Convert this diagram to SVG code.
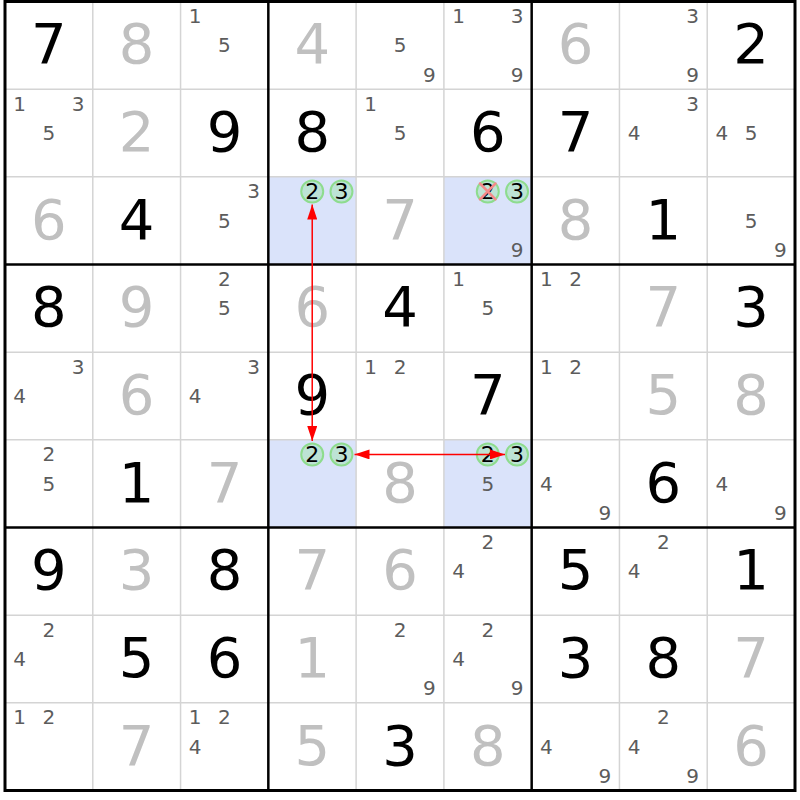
<svg xmlns="http://www.w3.org/2000/svg" width="800" height="800" viewBox="0 0 800 800">
<style>
.s{font-family:"DejaVu Sans",Verdana,sans-serif;font-size:56px;fill:#000;text-anchor:middle}
.g{font-family:"DejaVu Sans",Verdana,sans-serif;font-size:56px;fill:#c0c0c0;text-anchor:middle}
.c{font-family:"DejaVu Sans",Verdana,sans-serif;font-size:20px;fill:#5c5c5c;text-anchor:middle}
.k{font-family:"DejaVu Sans",Verdana,sans-serif;font-size:22px;fill:#000;text-anchor:middle}
.hl{fill:#dae3fa}
.ring{fill:#bde3d5;stroke:#8edc8e;stroke-width:2}
.thin{stroke:#d4d4d4;stroke-width:1.5}
.thick{stroke:#000;stroke-width:2.5}
.cross{stroke:#f58a8a;stroke-width:2.5;stroke-linecap:round}
.link{stroke:#ff0000;stroke-width:1.5;fill:none;marker-start:url(#ah);marker-end:url(#ah)}
</style>
<defs>
<marker id="ah" viewBox="0 0 15 10" refX="15" refY="5" markerWidth="15" markerHeight="10" markerUnits="userSpaceOnUse" orient="auto-start-reverse">
<path d="M0,0 L15,5 L0,10 z" fill="#ff0000"/>
</marker>
</defs>
<rect x="0" y="0" width="800" height="800" fill="#fff"/>
<g id="highlights">
<rect class="hl" x="268.33" y="176.83" width="87.78" height="87.67"/>
<rect class="hl" x="443.89" y="176.83" width="87.78" height="87.67"/>
<rect class="hl" x="268.33" y="439.83" width="87.78" height="87.67"/>
<rect class="hl" x="443.89" y="439.83" width="87.78" height="87.67"/>
</g>
<g id="grid">
<line class="thin" x1="92.78" y1="1.5" x2="92.78" y2="790.5"/>
<line class="thin" x1="180.56" y1="1.5" x2="180.56" y2="790.5"/>
<line class="thin" x1="356.11" y1="1.5" x2="356.11" y2="790.5"/>
<line class="thin" x1="443.89" y1="1.5" x2="443.89" y2="790.5"/>
<line class="thin" x1="619.44" y1="1.5" x2="619.44" y2="790.5"/>
<line class="thin" x1="707.22" y1="1.5" x2="707.22" y2="790.5"/>
<line class="thin" x1="5" y1="89.17" x2="795" y2="89.17"/>
<line class="thin" x1="5" y1="176.83" x2="795" y2="176.83"/>
<line class="thin" x1="5" y1="352.17" x2="795" y2="352.17"/>
<line class="thin" x1="5" y1="439.83" x2="795" y2="439.83"/>
<line class="thin" x1="5" y1="615.17" x2="795" y2="615.17"/>
<line class="thin" x1="5" y1="702.83" x2="795" y2="702.83"/>
<line class="thick" x1="268.33" y1="1.5" x2="268.33" y2="790.5"/>
<line class="thick" x1="531.67" y1="1.5" x2="531.67" y2="790.5"/>
<line class="thick" x1="5" y1="264.5" x2="795" y2="264.5"/>
<line class="thick" x1="5" y1="527.5" x2="795" y2="527.5"/>
<rect x="5" y="1.5" width="790" height="789" fill="none" stroke="#000" stroke-width="3"/>
</g>
<g id="r0">
<g id="r0c0"><text class="s" x="48.89" y="63.3">7</text></g>
<g id="r0c1"><text class="g" x="136.67" y="63.3">8</text></g>
<g id="r0c2"><text class="c" x="195.19" y="23.1">1</text><text class="c" x="224.45" y="52.3">5</text></g>
<g id="r0c3"><text class="g" x="312.22" y="63.3">4</text></g>
<g id="r0c4"><text class="c" x="400" y="52.3">5</text><text class="c" x="429.26" y="81.5">9</text></g>
<g id="r0c5"><text class="c" x="458.52" y="23.1">1</text><text class="c" x="517.04" y="23.1">3</text><text class="c" x="517.04" y="81.5">9</text></g>
<g id="r0c6"><text class="g" x="575.56" y="63.3">6</text></g>
<g id="r0c7"><text class="c" x="692.59" y="23.1">3</text><text class="c" x="692.59" y="81.5">9</text></g>
<g id="r0c8"><text class="s" x="751.11" y="63.3">2</text></g>
</g>
<g id="r1">
<g id="r1c0"><text class="c" x="19.63" y="110.8">1</text><text class="c" x="78.15" y="110.8">3</text><text class="c" x="48.89" y="140">5</text></g>
<g id="r1c1"><text class="g" x="136.67" y="151">2</text></g>
<g id="r1c2"><text class="s" x="224.45" y="151">9</text></g>
<g id="r1c3"><text class="s" x="312.22" y="151">8</text></g>
<g id="r1c4"><text class="c" x="370.74" y="110.8">1</text><text class="c" x="400" y="140">5</text></g>
<g id="r1c5"><text class="s" x="487.78" y="151">6</text></g>
<g id="r1c6"><text class="s" x="575.56" y="151">7</text></g>
<g id="r1c7"><text class="c" x="692.59" y="110.8">3</text><text class="c" x="634.07" y="140">4</text></g>
<g id="r1c8"><text class="c" x="721.85" y="140">4</text><text class="c" x="751.11" y="140">5</text></g>
</g>
<g id="r2">
<g id="r2c0"><text class="g" x="48.89" y="238.7">6</text></g>
<g id="r2c1"><text class="s" x="136.67" y="238.7">4</text></g>
<g id="r2c2"><text class="c" x="253.71" y="198.4">3</text><text class="c" x="224.45" y="227.7">5</text></g>
<g id="r2c3"><circle class="ring" cx="312.22" cy="191.4" r="11"/><circle class="ring" cx="341.48" cy="191.4" r="11"/><text class="k" x="312.22" y="199.3">2</text><text class="k" x="341.48" y="199.3">3</text></g>
<g id="r2c4"><text class="g" x="400" y="238.7">7</text></g>
<g id="r2c5"><circle class="ring" cx="487.78" cy="191.4" r="11"/><circle class="ring" cx="517.04" cy="191.4" r="11"/><text class="k" x="487.78" y="199.3">2</text><text class="k" x="517.04" y="199.3">3</text><line class="cross" x1="480" y1="183.5" x2="495.5" y2="199.3"/><line class="cross" x1="495.5" y1="183.5" x2="480" y2="199.3"/><text class="c" x="517.04" y="256.9">9</text></g>
<g id="r2c6"><text class="g" x="575.56" y="238.7">8</text></g>
<g id="r2c7"><text class="s" x="663.33" y="238.7">1</text></g>
<g id="r2c8"><text class="c" x="751.11" y="227.7">5</text><text class="c" x="780.37" y="256.9">9</text></g>
</g>
<g id="r3">
<g id="r3c0"><text class="s" x="48.89" y="326.3">8</text></g>
<g id="r3c1"><text class="g" x="136.67" y="326.3">9</text></g>
<g id="r3c2"><text class="c" x="224.45" y="286.1">2</text><text class="c" x="224.45" y="315.3">5</text></g>
<g id="r3c3"><text class="g" x="312.22" y="326.3">6</text></g>
<g id="r3c4"><text class="s" x="400" y="326.3">4</text></g>
<g id="r3c5"><text class="c" x="458.52" y="286.1">1</text><text class="c" x="487.78" y="315.3">5</text></g>
<g id="r3c6"><text class="c" x="546.3" y="286.1">1</text><text class="c" x="575.56" y="286.1">2</text></g>
<g id="r3c7"><text class="g" x="663.33" y="326.3">7</text></g>
<g id="r3c8"><text class="s" x="751.11" y="326.3">3</text></g>
</g>
<g id="r4">
<g id="r4c0"><text class="c" x="78.15" y="373.8">3</text><text class="c" x="19.63" y="403">4</text></g>
<g id="r4c1"><text class="g" x="136.67" y="414">6</text></g>
<g id="r4c2"><text class="c" x="253.71" y="373.8">3</text><text class="c" x="195.19" y="403">4</text></g>
<g id="r4c3"><text class="s" x="312.22" y="414">9</text></g>
<g id="r4c4"><text class="c" x="370.74" y="373.8">1</text><text class="c" x="400" y="373.8">2</text></g>
<g id="r4c5"><text class="s" x="487.78" y="414">7</text></g>
<g id="r4c6"><text class="c" x="546.3" y="373.8">1</text><text class="c" x="575.56" y="373.8">2</text></g>
<g id="r4c7"><text class="g" x="663.33" y="414">5</text></g>
<g id="r4c8"><text class="g" x="751.11" y="414">8</text></g>
</g>
<g id="r5">
<g id="r5c0"><text class="c" x="48.89" y="461.4">2</text><text class="c" x="48.89" y="490.7">5</text></g>
<g id="r5c1"><text class="s" x="136.67" y="501.7">1</text></g>
<g id="r5c2"><text class="g" x="224.45" y="501.7">7</text></g>
<g id="r5c3"><circle class="ring" cx="312.22" cy="454.4" r="11"/><circle class="ring" cx="341.48" cy="454.4" r="11"/><text class="k" x="312.22" y="462.3">2</text><text class="k" x="341.48" y="462.3">3</text></g>
<g id="r5c4"><text class="g" x="400" y="501.7">8</text></g>
<g id="r5c5"><circle class="ring" cx="487.78" cy="454.4" r="11"/><circle class="ring" cx="517.04" cy="454.4" r="11"/><text class="k" x="487.78" y="462.3">2</text><text class="k" x="517.04" y="462.3">3</text><text class="c" x="487.78" y="490.7">5</text></g>
<g id="r5c6"><text class="c" x="546.3" y="490.7">4</text><text class="c" x="604.82" y="519.9">9</text></g>
<g id="r5c7"><text class="s" x="663.33" y="501.7">6</text></g>
<g id="r5c8"><text class="c" x="721.85" y="490.7">4</text><text class="c" x="780.37" y="519.9">9</text></g>
</g>
<g id="r6">
<g id="r6c0"><text class="s" x="48.89" y="589.3">9</text></g>
<g id="r6c1"><text class="g" x="136.67" y="589.3">3</text></g>
<g id="r6c2"><text class="s" x="224.45" y="589.3">8</text></g>
<g id="r6c3"><text class="g" x="312.22" y="589.3">7</text></g>
<g id="r6c4"><text class="g" x="400" y="589.3">6</text></g>
<g id="r6c5"><text class="c" x="487.78" y="549.1">2</text><text class="c" x="458.52" y="578.3">4</text></g>
<g id="r6c6"><text class="s" x="575.56" y="589.3">5</text></g>
<g id="r6c7"><text class="c" x="663.33" y="549.1">2</text><text class="c" x="634.07" y="578.3">4</text></g>
<g id="r6c8"><text class="s" x="751.11" y="589.3">1</text></g>
</g>
<g id="r7">
<g id="r7c0"><text class="c" x="48.89" y="636.8">2</text><text class="c" x="19.63" y="666">4</text></g>
<g id="r7c1"><text class="s" x="136.67" y="677">5</text></g>
<g id="r7c2"><text class="s" x="224.45" y="677">6</text></g>
<g id="r7c3"><text class="g" x="312.22" y="677">1</text></g>
<g id="r7c4"><text class="c" x="400" y="636.8">2</text><text class="c" x="429.26" y="695.2">9</text></g>
<g id="r7c5"><text class="c" x="487.78" y="636.8">2</text><text class="c" x="458.52" y="666">4</text><text class="c" x="517.04" y="695.2">9</text></g>
<g id="r7c6"><text class="s" x="575.56" y="677">3</text></g>
<g id="r7c7"><text class="s" x="663.33" y="677">8</text></g>
<g id="r7c8"><text class="g" x="751.11" y="677">7</text></g>
</g>
<g id="r8">
<g id="r8c0"><text class="c" x="19.63" y="724.4">1</text><text class="c" x="48.89" y="724.4">2</text></g>
<g id="r8c1"><text class="g" x="136.67" y="764.7">7</text></g>
<g id="r8c2"><text class="c" x="195.19" y="724.4">1</text><text class="c" x="224.45" y="724.4">2</text><text class="c" x="195.19" y="753.7">4</text></g>
<g id="r8c3"><text class="g" x="312.22" y="764.7">5</text></g>
<g id="r8c4"><text class="s" x="400" y="764.7">3</text></g>
<g id="r8c5"><text class="g" x="487.78" y="764.7">8</text></g>
<g id="r8c6"><text class="c" x="546.3" y="753.7">4</text><text class="c" x="604.82" y="782.9">9</text></g>
<g id="r8c7"><text class="c" x="663.33" y="724.4">2</text><text class="c" x="634.07" y="753.7">4</text><text class="c" x="692.59" y="782.9">9</text></g>
<g id="r8c8"><text class="g" x="751.11" y="764.7">6</text></g>
</g>
<g id="connectors">
<line class="link" x1="312.22" y1="204.5" x2="312.22" y2="441"/>
<line class="link" x1="354.5" y1="454.4" x2="505" y2="454.4"/>
</g>
</svg>
